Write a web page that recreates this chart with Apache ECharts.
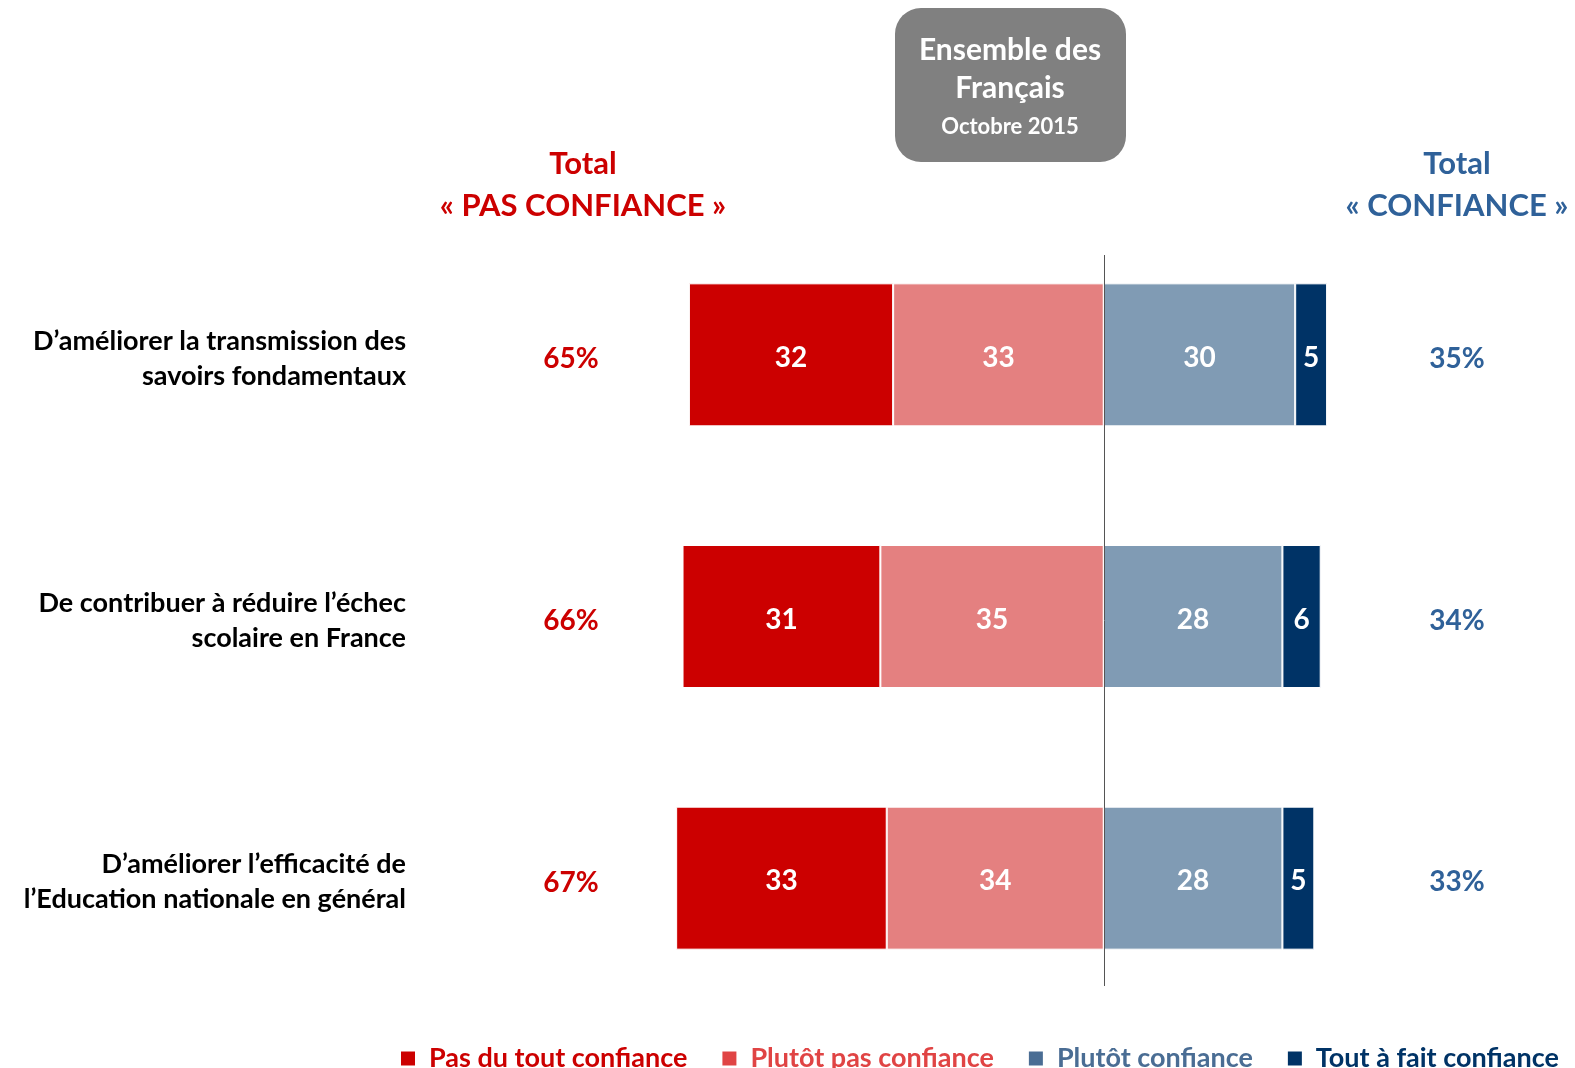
<!DOCTYPE html>
<html>
<head>
<meta charset="utf-8">
<script src="https://cdn.jsdelivr.net/npm/echarts@6/dist/echarts.min.js"></script>
<style>html,body{margin:0;padding:0;background:#fff}#c{width:1575px;height:1068px}</style>
</head>
<body>
<div id="c"></div>
<script>
const categories = [
  "D’améliorer la transmission des\nsavoirs fondamentaux",
  "De contribuer à réduire l’échec\nscolaire en France",
  "D’améliorer l’efficacité de\nl’Education nationale en général"
];
const seriesNames = ["Pas du tout confiance", "Plutôt pas confiance", "Plutôt confiance", "Tout à fait confiance"];
const pasDuTout = [32, 31, 33];
const plutotPas = [33, 35, 34];
const plutotConf = [30, 28, 28];
const toutAFait = [5, 6, 5];
const totalPas = ["65%", "66%", "67%"];
const totalConf = ["35%", "34%", "33%"];

const FONT = "Lato";
const chart = echarts.init(document.getElementById('c'));

function barSeries(name, values, color, negative) {
  return {
    name: name,
    type: 'bar',
    stack: 'total',
    yAxisIndex: 0,
    barWidth: 143,
    data: values.map(v => negative ? -v : v),
    itemStyle: { color: color, borderColor: '#fff', borderWidth: 1 },
    label: {
      show: true, position: 'inside', color: '#fff', offset: [0, 3],
      fontFamily: FONT, fontWeight: 'bold', fontSize: 28,
      formatter: p => Math.abs(p.value)
    },
    emphasis: { disabled: true }
  };
}

function catLabel(v) {
  const lines = v.split('\n');
  return lines.map(l => '{a|' + l + '}').join('\n');
}
const catText = { color: '#000', fontFamily: FONT, fontWeight: 'bold', fontSize: 27, lineHeight: 35, align: 'right', padding: [8, 0, 0, 0] };

const option = {
  animation: false,
  textStyle: { fontFamily: FONT },
  grid: { left: 657, right: 216, top: 224, bottom: 59 },
  xAxis: { type: 'value', min: -70, max: 40, show: false },
  yAxis: [
    {
      type: 'category', data: categories, inverse: true, position: 'left',
      axisLine: { show: false }, axisTick: { show: false },
      axisLabel: { margin: 251, align: 'right', formatter: catLabel, rich: { a: catText } }
    },
    {
      type: 'category', data: totalPas, inverse: true, position: 'left',
      axisLine: { show: false }, axisTick: { show: false },
      axisLabel: {
        margin: 86, align: 'center', formatter: v => '{p|' + v + '}',
        rich: { p: { color: '#CC0000', fontFamily: FONT, fontWeight: 'bold', fontSize: 28, padding: [9, 0, 0, 0] } }
      }
    },
    {
      type: 'category', data: totalConf, inverse: true, position: 'right',
      axisLine: { show: false }, axisTick: { show: false },
      axisLabel: {
        margin: 98, align: 'center', formatter: v => '{p|' + v + '}',
        rich: { p: { color: '#2F6199', fontFamily: FONT, fontWeight: 'bold', fontSize: 28, padding: [8, 0, 0, 0] } }
      }
    }
  ],
  legend: {
    left: 394, top: 1040, itemWidth: 16, itemHeight: 16, itemGap: 33, icon: 'rect',
    selectedMode: false,
    textStyle: { fontFamily: FONT, fontWeight: 'bold', fontSize: 27, padding: [0, 0, 0, 8] },
    data: [
      { name: seriesNames[0], itemStyle: { color: '#CC0000' }, textStyle: { color: '#CC0000' } },
      { name: seriesNames[1], itemStyle: { color: '#E04444' }, textStyle: { color: '#E04444' } },
      { name: seriesNames[2], itemStyle: { color: '#4A6D94' }, textStyle: { color: '#4A6D94' } },
      { name: seriesNames[3], itemStyle: { color: '#003366' }, textStyle: { color: '#003366' } }
    ]
  },
  series: [
    barSeries(seriesNames[1], plutotPas, '#E48080', true),
    barSeries(seriesNames[0], pasDuTout, '#CC0000', true),
    barSeries(seriesNames[2], plutotConf, '#809BB4', false),
    barSeries(seriesNames[3], toutAFait, '#003366', false)
  ]
};
chart.setOption(option);

const zeroX = Math.round(chart.convertToPixel({ xAxisIndex: 0 }, 0)) + 0.5;
chart.setOption({
  graphic: [
    { type: 'line', z: 10, shape: { x1: zeroX, y1: 255, x2: zeroX, y2: 986 }, style: { stroke: '#555', lineWidth: 1 } },
    { type: 'rect', shape: { x: 895, y: 8, width: 231, height: 154, r: 26 }, style: { fill: '#808080' } },
    { type: 'text', x: 1010, y: 50, style: { text: 'Ensemble des', fill: '#fff', font: 'bold 30px ' + FONT, textAlign: 'center', textVerticalAlign: 'middle' } },
    { type: 'text', x: 1010, y: 88, style: { text: 'Français', fill: '#fff', font: 'bold 30px ' + FONT, textAlign: 'center', textVerticalAlign: 'middle' } },
    { type: 'text', x: 1010, y: 127, style: { text: 'Octobre 2015', fill: '#fff', font: 'bold 22px ' + FONT, textAlign: 'center', textVerticalAlign: 'middle' } },
    { type: 'text', x: 583, y: 164, style: { text: 'Total', fill: '#CC0000', font: 'bold 31px ' + FONT, textAlign: 'center', textVerticalAlign: 'middle' } },
    { type: 'text', x: 583, y: 206, style: { text: '« PAS CONFIANCE »', fill: '#CC0000', font: 'bold 31px ' + FONT, textAlign: 'center', textVerticalAlign: 'middle' } },
    { type: 'text', x: 1457, y: 164, style: { text: 'Total', fill: '#2F6199', font: 'bold 31px ' + FONT, textAlign: 'center', textVerticalAlign: 'middle' } },
    { type: 'text', x: 1457, y: 206, style: { text: '« CONFIANCE »', fill: '#2F6199', font: 'bold 31px ' + FONT, textAlign: 'center', textVerticalAlign: 'middle' } }
  ]
});
</script>
</body>
</html>
